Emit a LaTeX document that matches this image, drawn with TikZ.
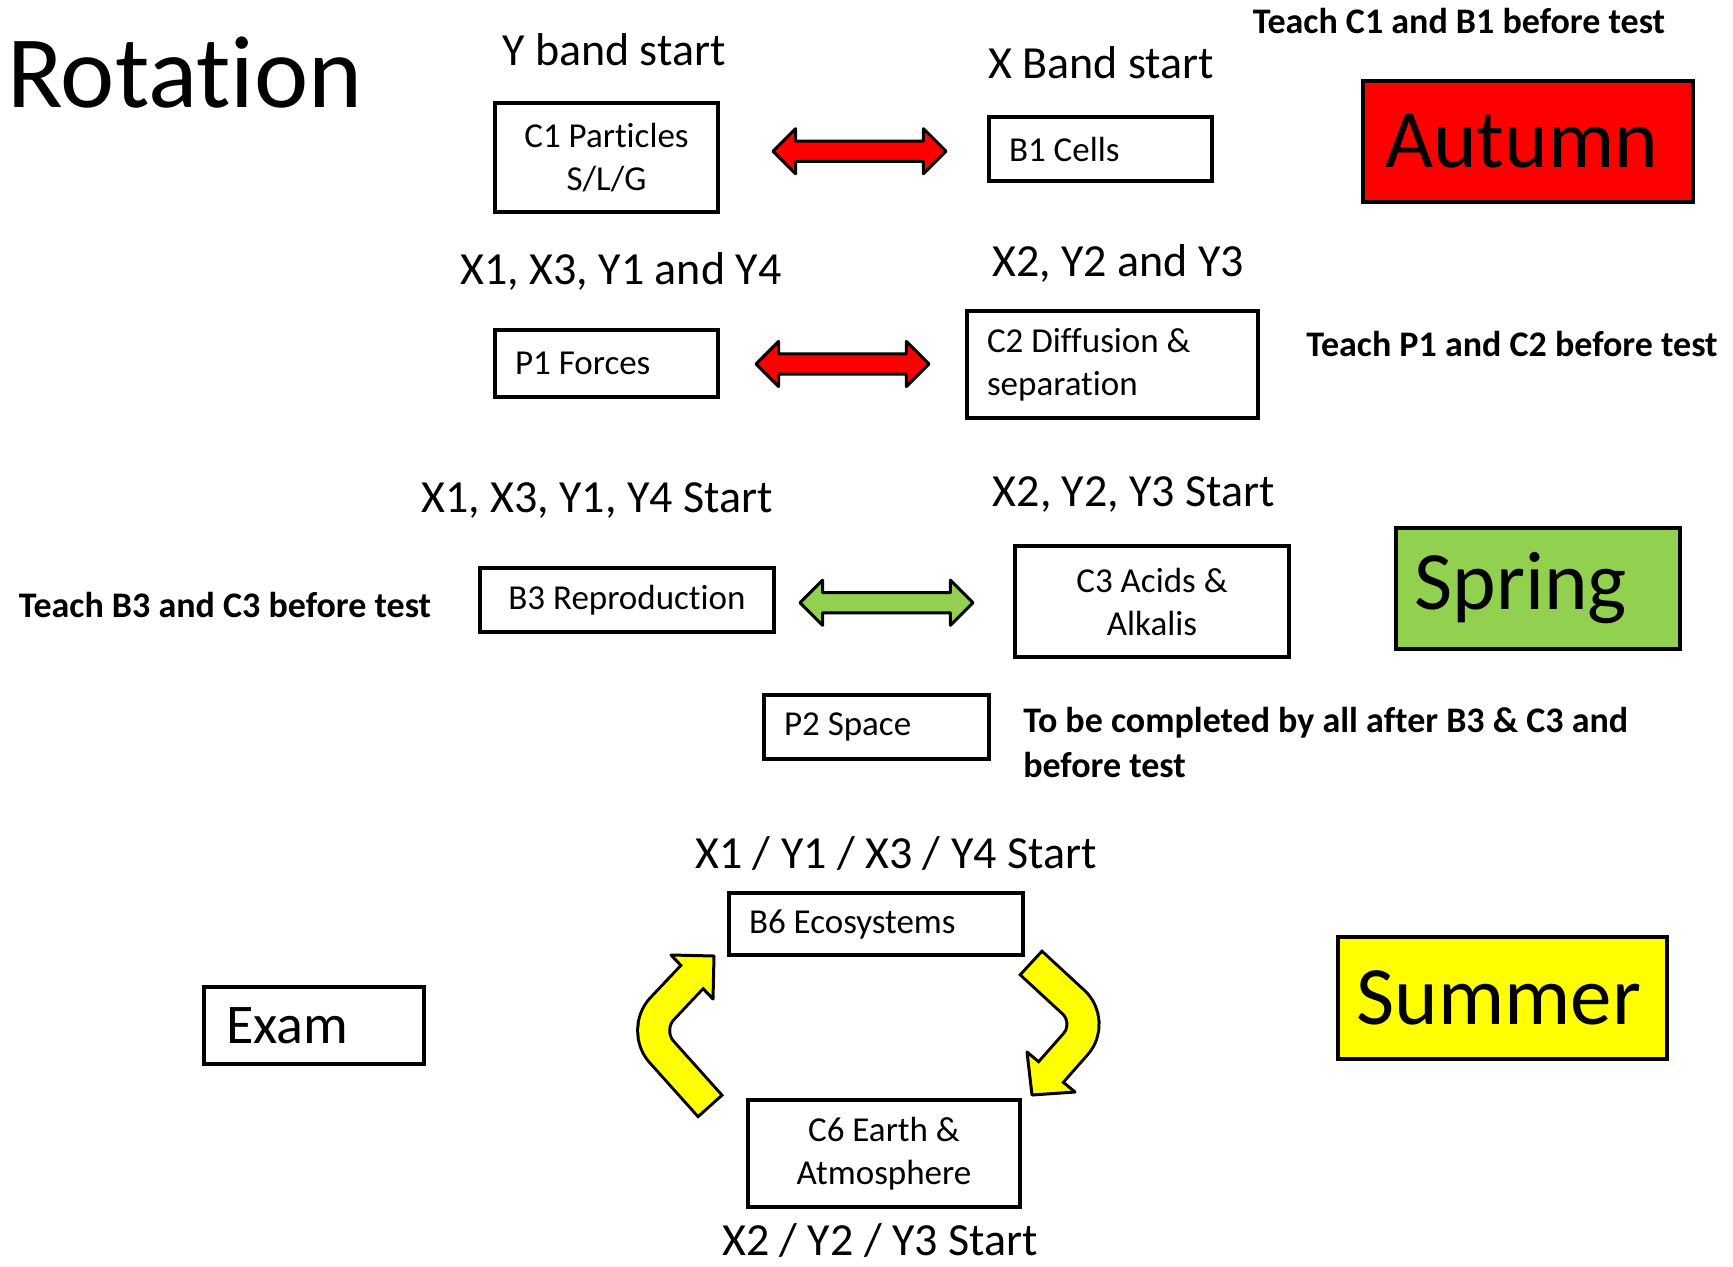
\documentclass[tikz,border=0pt]{standalone}
\usepackage{fontspec}
\setmainfont{Carlito}[Ligatures=NoCommon]
\usetikzlibrary{shapes.arrows,calc}

\definecolor{autumnred}{RGB}{255,0,0}
\definecolor{springgreen}{RGB}{146,208,80}
\definecolor{summeryellow}{RGB}{255,255,0}

\tikzset{
	box/.style={draw, line width=2.6pt, inner sep=0pt, font=\fontsize{26.25}{32.25}\selectfont},
	lbox/.style={box, inner xsep=15pt, align=flush left},
	cbox/.style={box, align=flush center},
	season/.style={draw, line width=2.6pt, inner sep=0pt, align=flush left, font=\fontsize{62.25}{70}\selectfont},
	band/.style={anchor=base, inner sep=0pt, font=\fontsize{34.5}{41}\selectfont},
	note/.style={anchor=base, inner sep=0pt, font=\fontsize{27}{33.75}\selectfont\bfseries},
	dblarrow/.style={double arrow, draw, line width=2.25pt, line join=round, inner sep=6.4pt,
		double arrow head extend=9.4pt, minimum height=129.75pt},
	yedge/.style={draw=black, line width=26.25pt, rounded corners=22pt},
	yfill/.style={draw=summeryellow, line width=21.75pt, rounded corners=22pt, shorten <=2.3pt, shorten >=-4pt},
	yhead/.style={fill=summeryellow, draw=black, line width=2.25pt, line join=round}
}

\begin{document}
\begin{tikzpicture}[x=0.75pt,y=0.75pt,yscale=-1,xscale=1]
	\path[use as bounding box] (0,0) rectangle (1733,1266);

	% Title
	\node (rotation) [anchor=base west, inner sep=0pt, font=\fontsize{77}{80}\selectfont] at (7,108) {Rotation};

	%Shape: Rectangle -- autumn row
	\node (c1) [cbox, minimum width=167.25pt, minimum height=81.75pt] at (606.5,157.5) {C1 Particles\\S/L/G};
	\node (b1) [lbox, minimum height=48pt, text width=137.25pt] at (1100.5,149) {B1 Cells};
	\node (autumn) [season, fill=autumnred, inner xsep=16.5pt, minimum height=90.75pt, text width=214.5pt] at (1528,141.5) {Autumn};
	\node (p1) [lbox, minimum height=50.25pt, text width=137.25pt] at (606.5,363.5) {P1 Forces};
	\node (c2) [lbox, minimum height=80.25pt, text width=188.25pt] at (1112.5,364.5) {C2 Diffusion \&\\separation};

	%Shape: Rectangle -- spring row
	\node (b3) [cbox, minimum width=220.5pt, minimum height=48pt] at (627,600) {B3 Reproduction};
	\node (c3) [cbox, minimum width=205.5pt, minimum height=83.25pt] at (1152,601.5) {C3 Acids \&\\Alkalis};
	\node (spring) [season, fill=springgreen, inner xsep=14pt, minimum height=90.75pt, text width=185pt] at (1538,588.5) {Spring};
	\node (p2) [lbox, minimum height=48pt, text width=138.75pt] at (876.5,727) {P2 Space};

	%Shape: Rectangle -- summer row
	\node (b6) [lbox, minimum height=46.5pt, text width=190.5pt] at (876,924) {B6 Ecosystems};
	\node (c6) [cbox, minimum width=204pt, minimum height=80.25pt] at (884,1153.5) {C6 Earth \&\\Atmosphere};
	\node (exam) [season, inner xsep=16.5pt, minimum height=57.75pt, text width=132pt, font=\fontsize{42}{46}\selectfont] at (314,1025.5) {Exam};
	\node (summer) [season, fill=summeryellow, inner xsep=14pt, minimum height=91.5pt, text width=218.75pt] at (1502.5,998) {Summer};

	% Text Node
	\node (yband) [band] at (614,66) {Y band start};
	% Text Node
	\node (xband) [band] at (1101,79) {X Band start};
	% Text Node
	\node (grpa) [band] at (621,284) {X1, X3, Y1 and Y4};
	% Text Node
	\node (grpb) [band] at (1118,276) {X2, Y2 and Y3};
	% Text Node
	\node (grpc) [band] at (597,512) {X1, X3, Y1, Y4 Start};
	% Text Node
	\node (grpd) [band] at (1134,506) {X2, Y2, Y3 Start};
	% Text Node
	\node (grpe) [band] at (896,868) {X1 / Y1 / X3 / Y4 Start};
	% Text Node
	\node (grpf) [band] at (880,1255) {X2 / Y2 / Y3 Start};

	% Text Node
	\node (notea) [note] at (1459,34) {Teach C1 and B1 before test};
	% Text Node
	\node (noteb) [note] at (1512,356) {Teach P1 and C2 before test};
	% Text Node
	\node (notec) [note] at (225,617) {Teach B3 and C3 before test};
	% Text Node
	\node (noted) [note, anchor=north west, align=flush left] at (1023,707) {To be completed by all after B3 \& C3 and\\before test};

	%Double Arrow
	\node (swapa) [dblarrow, fill=autumnred] at ($(c1.east)!0.5!(b1.west)+(6,-2)$) {};
	%Double Arrow
	\node (swapb) [dblarrow, fill=autumnred] at ($(p1.east)!0.5!(c2.west)$) {};
	%Double Arrow
	\node (swapc) [dblarrow, fill=springgreen] at ($(b3.east)!0.5!(c3.west)+(-8,2)$) {};

	%Curved Arrow -- C6 back up to B6
	\coordinate (upt) at (711,1107);
	\coordinate (upk) at (642,1030);
	\coordinate (uph) at (692,977);
	\draw[yedge] (upt) -- (upk) -- (uph);
	\filldraw[yhead] (671,955) -- (714,956) -- (713,999) -- cycle;
	\draw[yfill] (upt) -- (upk) -- (uph);

	%Curved Arrow -- B6 down to C6
	\coordinate (dnt) at (1030,962);
	\coordinate (dnk) at (1095,1022);
	\coordinate (dnh) at (1051,1072);
	\draw[yedge] (dnt) -- (dnk) -- (dnh);
	\filldraw[yhead] (1075,1092) -- (1032,1095) -- (1027,1052) -- cycle;
	\draw[yfill] (dnt) -- (dnk) -- (dnh);

\end{tikzpicture}
\end{document}
